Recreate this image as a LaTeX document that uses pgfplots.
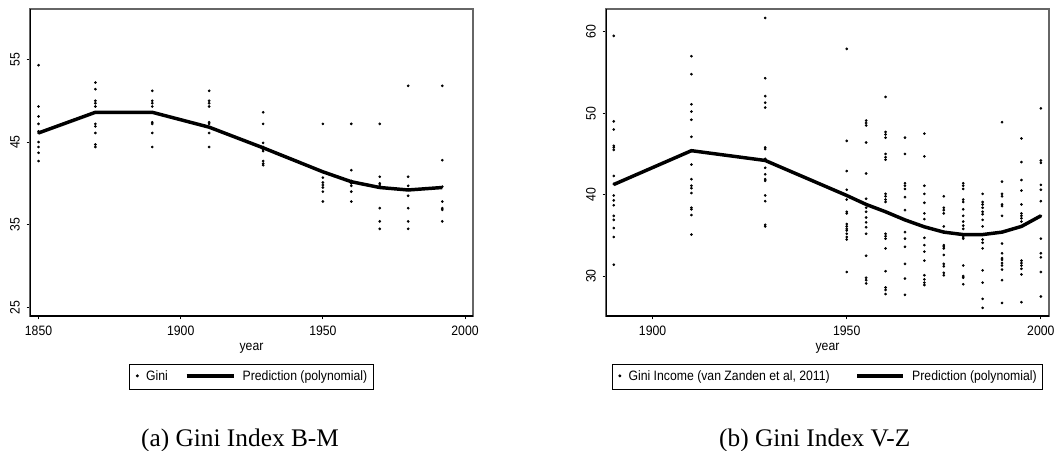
\documentclass[border=0pt]{standalone}
\usepackage{fontspec}
\setmainfont{Liberation Sans}[FakeStretch=0.9]
\newfontfamily\capserif{Liberation Serif}
\usepackage{pgfplots}
\pgfplotsset{compat=1.18}
\usepackage{pgfplotstable}

\newcommand{\statafont}{\fontsize{10.2pt}{12pt}\selectfont}
\newcommand{\capfont}{\capserif\fontsize{19pt}{22pt}\selectfont}

% Gini B-M (left)
\pgfplotstableread{
year gini
1850 54.3
1850 49.3
1850 48.1
1850 47.2
1850 46.3
1850 46.1
1850 45.0
1850 44.4
1850 43.7
1850 42.7
1870 52.2
1870 51.4
1870 50.0
1870 49.7
1870 49.3
1870 48.6
1870 47.2
1870 46.9
1870 46.1
1870 44.7
1870 44.4
1890 51.2
1890 50.0
1890 49.7
1890 49.3
1890 48.6
1890 47.4
1890 47.2
1890 46.1
1890 44.4
1910 51.2
1910 50.0
1910 49.7
1910 49.3
1910 47.4
1910 47.2
1910 46.1
1910 44.4
1929 48.6
1929 47.2
1929 44.9
1929 44.4
1929 44.1
1929 43.9
1929 42.7
1929 42.4
1929 42.2
1950 47.2
1950 41.4
1950 40.7
1950 40.1
1950 39.8
1950 39.5
1950 39.0
1950 37.8
1960 47.2
1960 41.6
1960 40.3
1960 40.0
1960 39.7
1960 39.0
1960 37.8
1970 47.2
1970 40.8
1970 40.0
1970 39.8
1970 39.5
1970 37.0
1970 35.4
1970 34.5
1980 51.8
1980 40.8
1980 39.7
1980 39.2
1980 38.5
1980 37.0
1980 35.4
1980 34.5
1992 51.8
1992 42.8
1992 39.6
1992 37.8
1992 37.0
1992 36.8
1992 35.4
}\ginibm

\pgfplotstableread{
year pred
1850 46.1
1870 48.6
1890 48.6
1910 46.8
1929 44.3
1950 41.4
1960 40.2
1970 39.5
1980 39.2
1992 39.5
}\predbm

% Gini V-Z (right)
\pgfplotstableread{
year gini
1890 59.5
1890 49.0
1890 48.0
1890 46.0
1890 45.8
1890 45.5
1890 42.3
1890 41.3
1890 39.9
1890 39.3
1890 38.7
1890 37.4
1890 36.9
1890 35.9
1890 34.8
1890 31.4
1910 57.0
1910 54.8
1910 51.1
1910 50.2
1910 49.2
1910 47.1
1910 45.4
1910 43.7
1910 41.9
1910 41.1
1910 40.8
1910 40.2
1910 38.4
1910 38.2
1910 37.5
1910 35.1
1929 61.7
1929 54.3
1929 52.1
1929 51.3
1929 50.7
1929 45.8
1929 45.6
1929 44.4
1929 44.2
1929 43.3
1929 42.5
1929 41.9
1929 41.7
1929 39.9
1929 39.2
1929 36.3
1929 36.1
1950 57.9
1950 46.6
1950 42.9
1950 40.6
1950 39.9
1950 39.4
1950 37.9
1950 37.7
1950 36.4
1950 36.1
1950 35.8
1950 35.6
1950 35.2
1950 34.8
1950 34.5
1950 30.5
1955 49.1
1955 48.8
1955 48.5
1955 46.4
1955 42.6
1955 39.5
1955 38.8
1955 38.4
1955 37.9
1955 37.2
1955 36.6
1955 36.0
1955 35.2
1955 32.5
1955 29.8
1955 29.5
1955 29.1
1960 52.0
1960 47.7
1960 47.4
1960 47.0
1960 45.0
1960 44.6
1960 44.3
1960 40.1
1960 39.8
1960 39.4
1960 39.1
1960 37.9
1960 35.2
1960 34.9
1960 34.6
1960 33.4
1960 30.6
1960 28.6
1960 28.3
1960 27.8
1965 47.0
1965 45.0
1965 41.4
1965 41.1
1965 40.7
1965 39.7
1965 38.1
1965 36.9
1965 35.4
1965 34.6
1965 33.6
1965 31.5
1965 29.7
1965 27.7
1970 47.5
1970 44.7
1970 41.1
1970 40.1
1970 39.0
1970 37.7
1970 37.0
1970 36.1
1970 34.7
1970 33.8
1970 33.0
1970 31.9
1970 30.1
1970 29.6
1970 29.2
1970 28.9
1975 39.8
1975 38.4
1975 38.1
1975 37.7
1975 36.1
1975 35.4
1975 33.8
1975 33.6
1975 33.4
1975 32.6
1975 31.5
1975 31.2
1975 30.4
1975 30.1
1980 41.4
1980 41.1
1980 40.7
1980 39.4
1980 39.1
1980 38.2
1980 37.4
1980 36.7
1980 36.2
1980 35.8
1980 35.1
1980 34.8
1980 34.6
1980 31.3
1980 30.0
1980 29.8
1980 29.0
1985 40.1
1985 39.1
1985 38.8
1985 38.4
1985 37.9
1985 37.6
1985 36.9
1985 36.1
1985 35.1
1985 34.5
1985 34.1
1985 33.4
1985 30.7
1985 29.2
1985 27.2
1985 26.1
1990 48.9
1990 41.6
1990 40.1
1990 39.8
1990 38.8
1990 38.6
1990 37.4
1990 35.4
1990 34.0
1990 32.8
1990 32.2
1990 32.0
1990 31.6
1990 31.3
1990 30.8
1990 29.5
1990 26.7
1995 46.9
1995 44.0
1995 41.8
1995 40.5
1995 38.8
1995 37.7
1995 37.4
1995 37.1
1995 36.7
1995 36.1
1995 31.9
1995 31.6
1995 31.3
1995 30.9
1995 30.2
1995 26.8
2000 50.6
2000 44.2
2000 43.9
2000 41.2
2000 40.6
2000 39.2
2000 37.4
2000 34.6
2000 32.8
2000 32.3
2000 30.5
2000 27.5
}\ginivz

\pgfplotstableread{
year pred
1890 41.25
1910 45.4
1929 44.2
1950 39.9
1955 38.8
1960 37.9
1965 36.9
1970 36.05
1975 35.4
1980 35.1
1985 35.1
1990 35.4
1995 36.1
2000 37.4
}\predvz

\pgfplotsset{
  statagraph/.style={
    scale only axis, width=332.25pt, height=230.25pt,
    axis line style={draw=black!60, line width=0.8pt},
    tick pos=left, tick align=outside, major tick length=2.6pt,
    tick style={black, line width=0.75pt},
    /pgf/number format/assume math mode=true,
    /pgf/number format/1000 sep={},
    tick label style={font=\statafont},
    xticklabel style={anchor=north, inner sep=0pt, yshift=-4.9pt},
    yticklabel style={rotate=90, anchor=south, inner sep=0pt, yshift=4.9pt},
    xlabel={year},
    xlabel style={font=\statafont, at={(axis description cs:0.5,0)}, anchor=base, yshift=-25.5pt},
    legend columns=2,
    legend style={at={(0.5,0)}, anchor=north, yshift=-36pt, draw=black, line width=0.6pt,
      font=\statafont, inner xsep=4.5pt, inner ysep=4.8pt,
      nodes={inner sep=0pt, anchor=base west},
      /tikz/every odd column/.append style={column sep=5.5pt}},
    legend cell align=left,
  },
  gini/.style={only marks, mark=*, mark size=0.8pt, black,
    legend image code/.code={\fill[black] (0.8pt,3.6pt) circle (0.8pt);}},
  pred/.style={black, line width=2.6pt, line join=round, no marks},
}

\begin{document}
\begin{tikzpicture}
\path[use as bounding box] (0,0) rectangle (791.25pt,337.5pt);

% (a) Gini Index B-M
\begin{axis}[statagraph, at={(22.5pt,100.5pt)}, anchor=south west,
  xmin=1847, xmax=2002.8, ymin=23.95, ymax=61.1,
  xtick={1850,1900,1950,2000}, ytick={25,35,45,55},
  legend style={/tikz/every even column/.append style={column sep=12.75pt}},
  pred/.append style={legend image code/.code={\draw[black, line width=2.6pt] (0pt,3.6pt) -- (35.25pt,3.6pt);}},
]
\addplot[gini] table[x=year, y=gini] {\ginibm};
\addlegendentry{Gini}
\addplot[pred] table[x=year, y=pred] {\predbm};
\addlegendentry{Prediction (polynomial)}
\draw[black, line width=1.1pt] (rel axis cs:0,1) -- (rel axis cs:0,0) -- (rel axis cs:1,0);
\end{axis}

% (b) Gini Index V-Z
\begin{axis}[statagraph, at={(454.5pt,100.5pt)}, anchor=south west,
  xmin=1888, xmax=2002.1, ymin=25.1, ymax=62.8,
  xtick={1900,1950,2000}, ytick={30,40,50,60},
  legend style={/tikz/every even column/.append style={column sep=19.5pt}},
  pred/.append style={legend image code/.code={\draw[black, line width=2.6pt] (0pt,3.6pt) -- (34.25pt,3.6pt);}},
]
\addplot[gini] table[x=year, y=gini] {\ginivz};
\addlegendentry{Gini Income (van Zanden et al, 2011)}
\addplot[pred] table[x=year, y=pred] {\predvz};
\addlegendentry{Prediction (polynomial)}
\draw[black, line width=1.1pt] (rel axis cs:0,1) -- (rel axis cs:0,0) -- (rel axis cs:1,0);
\end{axis}

\node[anchor=base, font=\capfont] at (180pt,3pt) {(a) Gini Index B-M};
\node[anchor=base, font=\capfont] at (611.1pt,3pt) {(b) Gini Index V-Z};
\end{tikzpicture}
\end{document}
